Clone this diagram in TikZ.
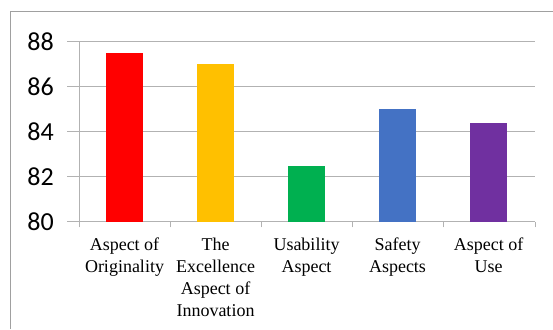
\documentclass[tikz,border=0pt]{standalone}
\usepackage{fontspec}
\setmainfont{Liberation Serif}
\newfontfamily\numfont{Carlito}
\definecolor{gridgray}{RGB}{178,178,178}
\definecolor{framegray}{RGB}{160,160,160}
\definecolor{barred}{RGB}{255,0,0}
\definecolor{baryellow}{RGB}{255,192,0}
\definecolor{bargreen}{RGB}{0,176,80}
\definecolor{barblue}{RGB}{68,114,196}
\definecolor{barpurple}{RGB}{112,48,160}
\tikzset{
	gridline/.style={draw=gridgray,line width=1pt},
	bar/.style={draw=none},
	catlabel/.style={anchor=north,inner sep=0pt,align=center,font=\fontsize{18}{22}\selectfont},
	ticklabel/.style={anchor=east,inner sep=0pt,font=\numfont\fontsize{26}{28}\selectfont}
}

\begin{document}
\begin{tikzpicture}[x=1pt,y=1pt]
	\useasboundingbox (0,0) rectangle (553,329);
	\draw[framegray,line width=1pt] (10,0) |- (553,317);
	% grid and axes
	\draw[gridline] (67,287) -- (535,287);
	\draw[gridline] (67,242) -- (535,242);
	\draw[gridline] (67,197) -- (535,197);
	\draw[gridline] (67,152) -- (535,152);
	\draw[gridline] (67,107) -- (535,107);
	\draw[gridline] (79,101.5) -- (79,287);
	\draw[gridline] (170,101.5) -- (170,107) (261,101.5) -- (261,107) (352,101.5) -- (352,107) (443,101.5) -- (443,107) (535,101.5) -- (535,107);
	\node[ticklabel] (t88) at (54,287) {88};
	\node[ticklabel] (t86) at (54,242) {86};
	\node[ticklabel] (t84) at (54,197) {84};
	\node[ticklabel] (t82) at (54,152) {82};
	\node[ticklabel] (t80) at (54,107) {80};
	% bars
	\fill[bar,barred]    (106,107) rectangle (143,275.75);
	\fill[bar,baryellow] (197,107) rectangle (234,264.5);
	\fill[bar,bargreen]  (288,107) rectangle (325,163.25);
	\fill[bar,barblue]   (379,107) rectangle (416,219.5);
	\fill[bar,barpurple] (470,107) rectangle (507,206);
	% category names
	\node[catlabel] (originality) at (124.5,91) {Aspect of\\Originality};
	\node[catlabel] (innovation) at (215.5,91) {The\\Excellence\\Aspect of\\Innovation};
	\node[catlabel] (usability) at (306.5,91) {Usability\\Aspect};
	\node[catlabel] (safety) at (397.5,91) {Safety\\Aspects};
	\node[catlabel] (use) at (488.5,91) {Aspect of\\Use};
\end{tikzpicture}
\end{document}
